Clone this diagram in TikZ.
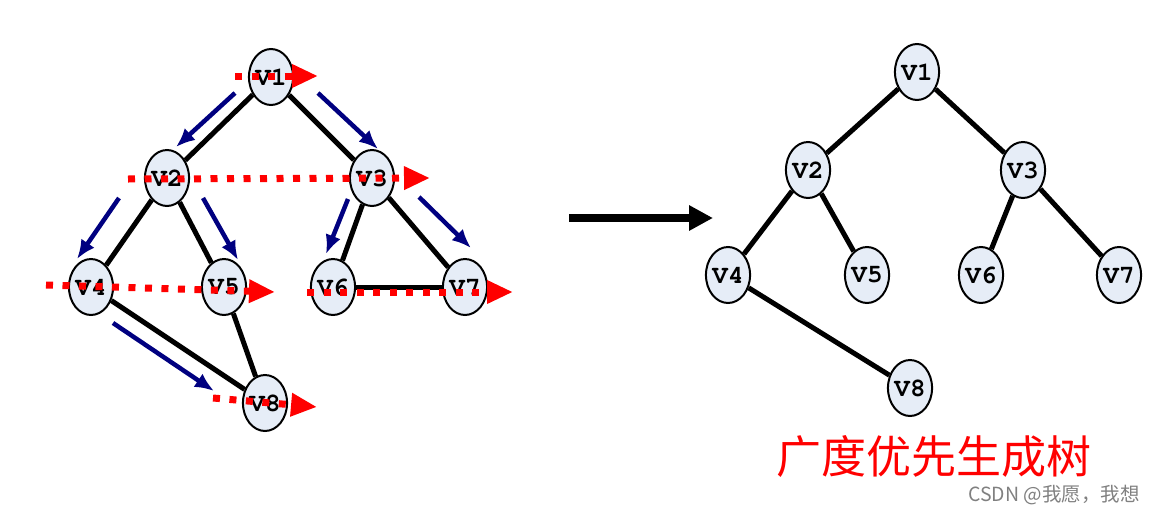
\documentclass[tikz,border=0pt]{standalone}
\usepackage{fontspec}
\usepackage{tikz}
\usetikzlibrary{arrows.meta,shapes.geometric}
\usepackage{xcolor}
\newfontfamily\vfont{TeX Gyre Cursor}
\newfontfamily\cjk{Noto Sans CJK SC}
\definecolor{BFSfill}{RGB}{230,237,247}
\definecolor{BFSnavy}{RGB}{0,0,128}

\begin{document}
\begin{tikzpicture}[x=1pt, y=-1pt, vert/.style={ellipse,draw=black,line width=2pt,fill=BFSfill,minimum width=44pt,minimum height=56pt,inner sep=0pt,font=\vfont\bfseries\fontsize{26}{26}\selectfont}, link/.style={line width=5pt}, visit/.style={-{Latex[length=19pt,width=16pt]},line width=4.5pt,BFSnavy}, sweep/.style={-{Triangle[length=26pt,width=22pt]},red,line width=7pt,dash pattern=on 7pt off 9.5pt}, goto/.style={-{Triangle[length=24pt,width=24pt]},line width=7.5pt}]
\useasboundingbox (0,0) rectangle (1156,514);
% graph
\node[vert] (a1) at (271,77) {V1};
\node[vert] (a2) at (167,178) {V2};
\node[vert] (a3) at (372,178) {V3};
\node[vert] (a4) at (91,287) {V4};
\node[vert] (a5) at (224,287) {V5};
\node[vert] (a6) at (333,287) {V6};
\node[vert] (a7) at (465,287) {V7};
\node[vert] (a8) at (265,403) {V8};
\draw[link] (a1)--(a2); \draw[link] (a1)--(a3); \draw[link] (a2)--(a4); \draw[link] (a2)--(a5); \draw[link] (a3)--(a6); \draw[link] (a3)--(a7); \draw[link] (a6)--(a7); \draw[link] (a4)--(a8); \draw[link] (a5)--(a8);
% visiting order
\coordinate (s12) at (235,93); \coordinate (e12) at (176,147);
\coordinate (s13) at (318,93); \coordinate (e13) at (378,149);
\coordinate (s24) at (119,198); \coordinate (e24) at (77,259);
\coordinate (s25) at (203,198); \coordinate (e25) at (238,260);
\coordinate (s36) at (348,199); \coordinate (e36) at (326,254);
\coordinate (s37) at (419,197); \coordinate (e37) at (471,248);
\coordinate (s48) at (113,323); \coordinate (e48) at (214,391);
\draw[visit] (s12)--(e12); \draw[visit] (s13)--(e13); \draw[visit] (s24)--(e24); \draw[visit] (s25)--(e25); \draw[visit] (s36)--(e36); \draw[visit] (s37)--(e37); \draw[visit] (s48)--(e48);
% levels
\coordinate (l1s) at (235,76); \coordinate (l1e) at (318,76);
\coordinate (l2s) at (128,179); \coordinate (l2e) at (430,178);
\coordinate (l3s) at (46,285); \coordinate (l3e) at (275,292);
\coordinate (l4s) at (307,292); \coordinate (l4e) at (513,292);
\coordinate (l5s) at (213,398); \coordinate (l5e) at (317,407);
\draw[sweep] (l1s)--(l1e); \draw[sweep] (l2s)--(l2e); \draw[sweep] (l3s)--(l3e); \draw[sweep] (l4s)--(l4e); \draw[sweep] (l5s)--(l5e);
% result
\coordinate (from) at (569,218); \coordinate (to) at (713,218);
\draw[goto] (from)--(to);
\node[vert] (b1) at (917,72) {V1};
\node[vert] (b2) at (808,170) {V2};
\node[vert] (b3) at (1023,170) {V3};
\node[vert] (b4) at (728,275) {V4};
\node[vert] (b5) at (867,275) {V5};
\node[vert] (b6) at (981,275) {V6};
\node[vert] (b7) at (1119,275) {V7};
\node[vert] (b8) at (910,388) {V8};
\draw[link] (b1)--(b2); \draw[link] (b1)--(b3); \draw[link] (b2)--(b4); \draw[link] (b2)--(b5); \draw[link] (b3)--(b6); \draw[link] (b3)--(b7); \draw[link] (b4)--(b8);
\node[red,font=\cjk\fontsize{45}{45}\selectfont] (title) at (934,457) {广度优先生成树};
\node[gray,anchor=west,inner sep=0pt,font=\cjk\fontsize{19.5}{19.5}\selectfont] (mark) at (968,495) {CSDN @我愿，我想};
\end{tikzpicture}
\end{document}
